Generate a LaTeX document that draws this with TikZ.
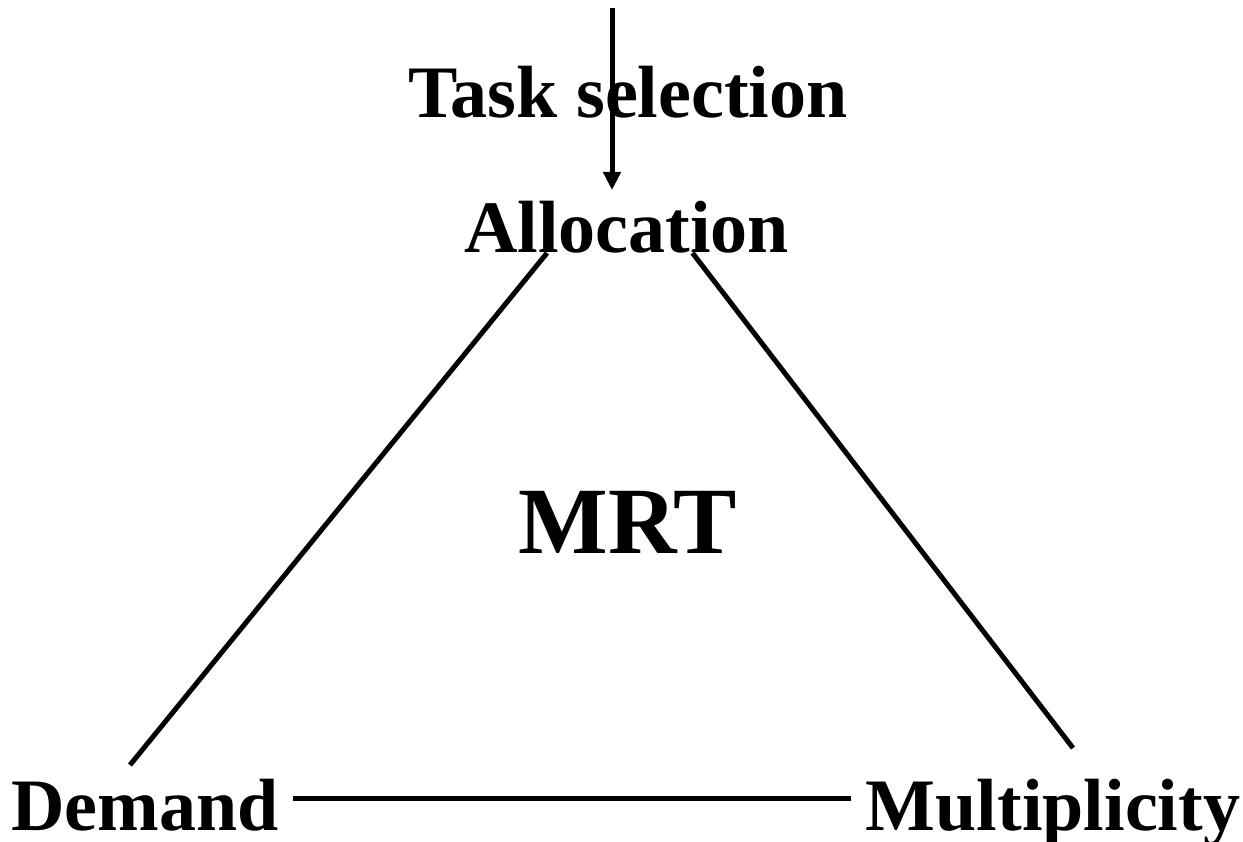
\documentclass[tikz,border=0pt]{standalone}
\usepackage{fontspec}
\setmainfont{Liberation Serif}
\usetikzlibrary{arrows.meta,calc}
\begin{document}
\begin{tikzpicture}[x=1pt,y=-1pt,
  label/.style={anchor=base,inner sep=0pt,font=\fontsize{74}{80}\selectfont\bfseries},
  biglabel/.style={anchor=base,inner sep=0pt,font=\fontsize{95}{100}\selectfont\bfseries},
  link/.style={line width=5pt},
  feed/.style={line width=5pt,-{Triangle[length=18pt,width=17pt]}}]
  \useasboundingbox[fill=white] (0,0) rectangle (1243,842);

  % labels
  \node[label] (task) at (628,118) {Task selection};
  \node[label] (alloc) at (626.5,253) {Allocation};
  \node[biglabel] (mrt) at (627.5,553) {MRT};
  \node[label] (demand) at (145,830) {Demand};
  \node[label] (multi) at (1053,830) {Multiplicity};

  % incoming arrow from above
  \coordinate (src) at (612,8);
  \draw[feed] (src) -- ($(src |- alloc.base)+(0,-63)$);

  % triangle sides
  \draw[link] ($(alloc.base)+(-79.5,0)$) -- ($(demand.base)+(-15,-65)$);
  \draw[link] ($(alloc.base)+(66,0)$) -- ($(multi.base)+(20,-82)$);
  \draw[link] ($(demand.base -| demand.east)+(14,-32)$) -- ($(multi.base -| multi.west)+(-15,-32)$);
\end{tikzpicture}
\end{document}
